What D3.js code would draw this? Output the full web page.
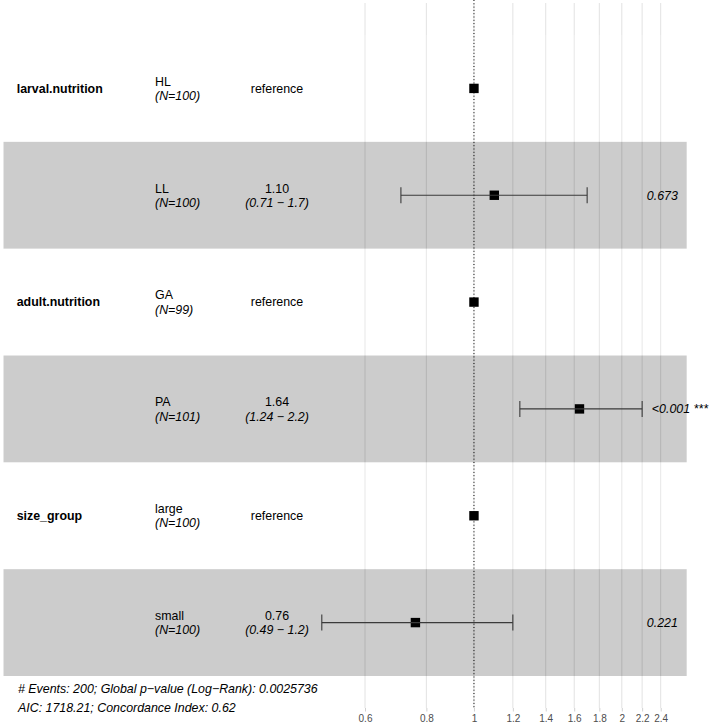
<!DOCTYPE html>
<html>
<head>
<meta charset="utf-8">
<script src="https://cdn.jsdelivr.net/npm/d3@7"></script>
<style>
    body { margin: 0; background: #fff; }
    svg { display: block; font-family: "Liberation Sans", Arial, Helvetica, sans-serif; }
</style>
</head>
<body>
<div id="chart"></div>
<script>
// Cox model summary (ggforest style)
const variables = ["larval.nutrition", "", "adult.nutrition", "", "size_group", ""]
const levels = ["HL", "LL", "GA", "PA", "large", "small"]
const nCounts = [100, 100, 99, 101, 100, 100]
const hazardRatios = [1, 1.10, 1, 1.64, 1, 0.76]
const ciLow = [null, 0.71, null, 1.24, null, 0.49]
const ciHigh = [null, 1.7, null, 2.2, null, 1.2]
const pValues = ["", "0.673", "", "<0.001", "", "0.221"]
const stars = ["", "", "", "***", "", ""]
const tickValues = [0.6, 0.8, 1, 1.2, 1.4, 1.6, 1.8, 2, 2.2, 2.4]
const footer = { events: 200, globalP: "0.0025736", aic: "1718.21", concordance: "0.62" }

const width = 709, height = 726
const fontSize = 12.4

const rows = levels.map((lvl, i) => ({
    i,
    variable: variables[i],
    level: lvl,
    n: nCounts[i],
    hr: hazardRatios[i],
    low: ciLow[i],
    high: ciHigh[i],
    p: pValues[i],
    stars: stars[i],
}))

const svg = d3.select("#chart").append("svg")
    .attr("width", width)
    .attr("height", height)

// hazard ratio axis (log)
const x = d3.scaleLog()
    .domain([0.6, 2.4])
    .range([365, 660.7])

// one band per level row
const y = d3.scaleBand()
    .domain(rows.map(d => d.i))
    .range([35, 676])

const panelTop = 3, panelBottom = 708
const bandLeft = 3.5, bandRight = 686.7
const col = { variable: 16.7, level: 155, estimate: 277, pAnchor: 640.6 }
const topLine = -2.6, bottomLine = 11.6, midLine = 4.4

// grid lines (under the bands)
svg.append("g")
    .selectAll("line")
    .data(tickValues)
    .join("line")
        .attr("x1", d => x(d)).attr("x2", d => x(d))
        .attr("y1", panelTop).attr("y2", panelBottom)
        .attr("stroke", "#e2e2e2")
        .attr("stroke-width", 1)

// alternating bands
svg.append("g")
    .selectAll("rect")
    .data(rows)
    .join("rect")
        .attr("x", bandLeft)
        .attr("width", bandRight - bandLeft)
        .attr("y", d => y(d.i))
        .attr("height", y.bandwidth())
        .attr("fill", d => d.i % 2 ? "#000" : "#fff")
        .attr("fill-opacity", 0.2)

// axis at the bottom
const axis = svg.append("g")
    .attr("transform", `translate(0,${panelBottom})`)
    .call(d3.axisBottom(x).tickValues(tickValues).tickFormat(d3.format("")).tickSizeOuter(0).tickSize(3.5).tickPadding(3))
axis.select(".domain").remove()
axis.selectAll(".tick line").attr("stroke", "#d0d0d0")
axis.selectAll(".tick text")
    .attr("fill", "#4d4d4d")
    .style("font-size", "10px")
    .style("font-family", "Liberation Sans, Arial, sans-serif")

const cy = d => y(d.i) + y.bandwidth() / 2

// points
svg.append("g")
    .selectAll("rect")
    .data(rows)
    .join("rect")
        .attr("x", d => x(d.hr) - 4.7)
        .attr("y", d => cy(d) - 4.7)
        .attr("width", 9.4)
        .attr("height", 9.4)
        .attr("fill", "#000")

// reference line at HR = 1
svg.append("line")
    .attr("x1", x(1)).attr("x2", x(1))
    .attr("y1", 0).attr("y2", panelBottom)
    .attr("stroke", "#000")
    .attr("stroke-width", 1)
    .attr("stroke-dasharray", "1,2.3")

// error bars
const bars = svg.append("g")
    .selectAll("g")
    .data(rows.filter(d => d.low != null))
    .join("g")
        .attr("stroke", "#3a3a3a")
        .attr("stroke-width", 1.1)
bars.append("line")
    .attr("x1", d => x(d.low)).attr("x2", d => x(d.high))
    .attr("y1", cy).attr("y2", cy)
bars.append("line")
    .attr("x1", d => x(d.low)).attr("x2", d => x(d.low))
    .attr("y1", d => cy(d) - 8).attr("y2", d => cy(d) + 8)
bars.append("line")
    .attr("x1", d => x(d.high)).attr("x2", d => x(d.high))
    .attr("y1", d => cy(d) - 8).attr("y2", d => cy(d) + 8)

// text annotations
const txt = svg.append("g").style("font-size", fontSize + "px").attr("fill", "#000")

txt.selectAll("text.var")
    .data(rows.filter(d => d.variable))
    .join("text")
        .attr("class", "var")
        .attr("x", col.variable)
        .attr("y", d => cy(d) + midLine)
        .style("font-weight", "bold")
        .text(d => d.variable)

txt.selectAll("text.level")
    .data(rows)
    .join("text")
        .attr("class", "level")
        .attr("x", col.level)
        .attr("y", d => cy(d) + topLine)
        .text(d => d.level)

txt.selectAll("text.n")
    .data(rows)
    .join("text")
        .attr("class", "n")
        .attr("x", col.level)
        .attr("y", d => cy(d) + bottomLine)
        .style("font-style", "italic")
        .text(d => `(N=${d.n})`)

txt.selectAll("text.est")
    .data(rows)
    .join("text")
        .attr("class", "est")
        .attr("x", col.estimate)
        .attr("y", d => d.low == null ? cy(d) + midLine : cy(d) + topLine)
        .attr("text-anchor", "middle")
        .text(d => d.low == null ? "reference" : d3.format(".2f")(d.hr))

txt.selectAll("text.ci")
    .data(rows.filter(d => d.low != null))
    .join("text")
        .attr("class", "ci")
        .attr("x", col.estimate)
        .attr("y", d => cy(d) + bottomLine)
        .attr("text-anchor", "middle")
        .style("font-style", "italic")
        .text(d => `(${d.low} \u2212 ${d.high})`)

// p-values, hjust = -0.2 like ggforest
txt.selectAll("text.p")
    .data(rows.filter(d => d.p))
    .join("text")
        .attr("class", "p")
        .attr("y", d => cy(d) + midLine)
        .style("font-style", "italic")
        .text(d => d.stars ? `${d.p} ${d.stars}` : d.p)
        .attr("x", function() { return col.pAnchor + 0.2 * this.getComputedTextLength() })

// footer
const foot = txt.append("text")
    .attr("x", 18)
    .style("font-style", "italic")
foot.append("tspan")
    .attr("x", 18).attr("y", 692.5)
    .text(`# Events: ${footer.events}; Global p\u2212value (Log\u2212Rank): ${footer.globalP}`)
foot.append("tspan")
    .attr("x", 18).attr("y", 712)
    .text(`AIC: ${footer.aic}; Concordance Index: ${footer.concordance}`)
</script>
</body>
</html>
